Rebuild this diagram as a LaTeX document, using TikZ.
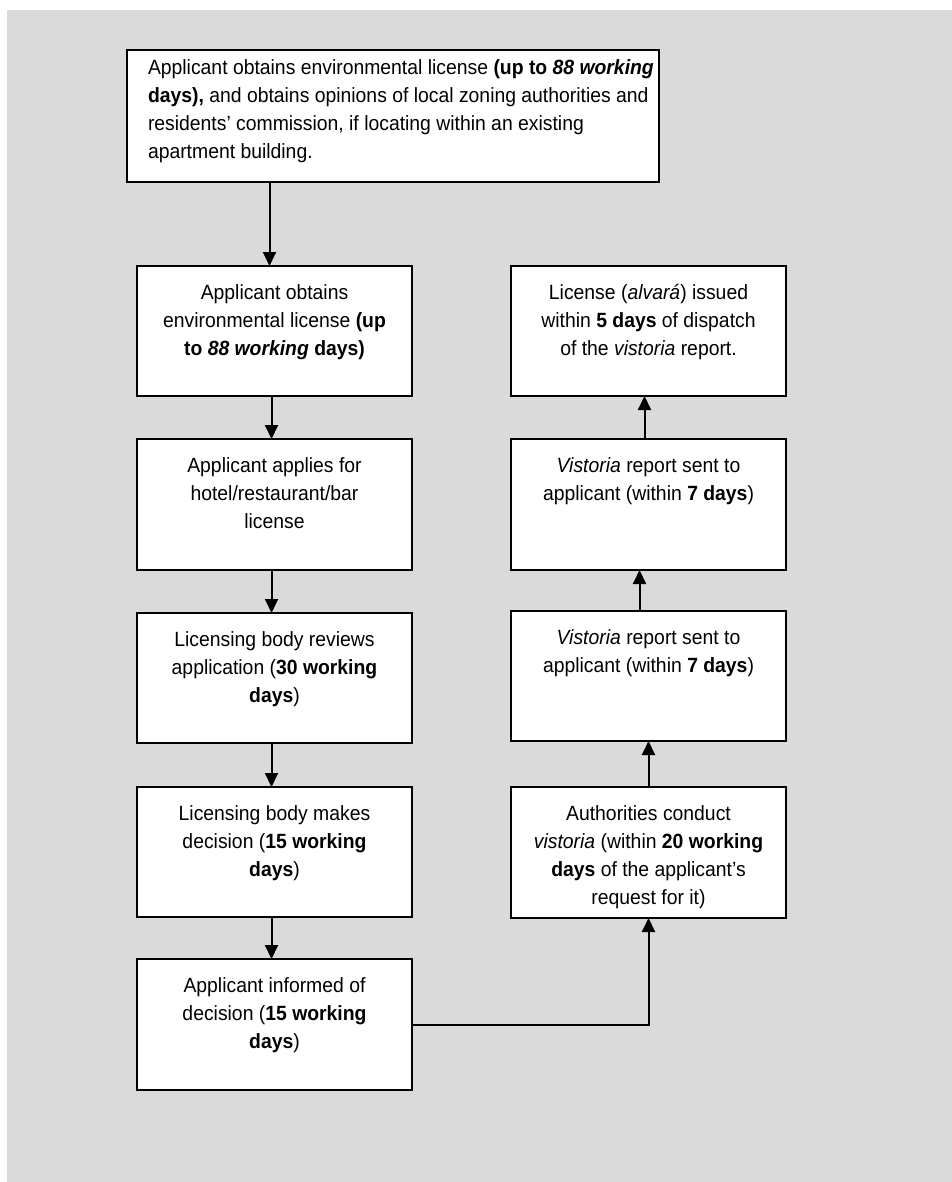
\documentclass[tikz,border=0pt]{standalone}
\usepackage{fontspec}
\setmainfont{Liberation Sans}[FakeStretch=0.94]
\usetikzlibrary{arrows.meta}
\definecolor{bggray}{RGB}{218,218,218}
\newcommand{\colbody}[2]{\parbox[c][#1][t]{275pt}{\centering\leftskip=-30pt plus 1fil\rightskip=-30pt plus 1fil\rule{0pt}{33pt}#2}}
\begin{document}
\begin{tikzpicture}[x=1pt,y=-1pt,
  every node/.style={font=\fontsize{20.6pt}{28pt}\selectfont},
  box/.style={draw, line width=2pt, fill=white, inner sep=0pt, outer sep=0pt},
  arr/.style={line width=2pt, -{Triangle[width=13pt,length=14pt]}}]
\useasboundingbox (0,0) rectangle (952,1182);
\fill[bggray] (7,10) rectangle (952,1182);

\node[box] (top) at (393,116) {\parbox[c][132pt][t]{532pt}{\raggedright\leftskip=21pt\rightskip=-50pt plus 1fil\rule{0pt}{25pt}Applicant obtains environmental license \textbf{(up to \textit{88 working}}\\
\textbf{days),} and obtains opinions of local zoning authorities and\\
residents’ commission, if locating within an existing\\
apartment building.}};

\node[box] (L1) at (274.5,331) {\colbody{130pt}{Applicant obtains\\ environmental license \textbf{(up}\\ \textbf{to \textit{88 working} days)}}};
\node[box] (L2) at (274.5,504.5) {\colbody{131pt}{Applicant applies for\\ hotel/restaurant/bar\\ license}};
\node[box] (L3) at (274.5,678) {\colbody{130pt}{Licensing body reviews\\ application (\textbf{30 working}\\ \textbf{days})}};
\node[box] (L4) at (274.5,852) {\colbody{130pt}{Licensing body makes\\ decision (\textbf{15 working}\\ \textbf{days})}};
\node[box] (L5) at (274.5,1024.5) {\colbody{131pt}{Applicant informed of\\ decision (\textbf{15 working}\\ \textbf{days})}};

\node[box] (R1) at (648.5,331) {\colbody{130pt}{License (\textit{alvará}) issued\\ within \textbf{5 days} of dispatch\\ of the \textit{vistoria} report.}};
\node[box] (R2) at (648.5,504.5) {\colbody{131pt}{\textit{Vistoria} report sent to\\ applicant (within \textbf{7 days})}};
\node[box] (R3) at (648.5,676) {\colbody{130pt}{\textit{Vistoria} report sent to\\ applicant (within \textbf{7 days})}};
\node[box] (R4) at (648.5,852.5) {\colbody{131pt}{Authorities conduct\\ \textit{vistoria} (within \textbf{20 working}\\ \textbf{days} of the applicant’s\\ request for it)}};

\draw[arr] ([xshift=-5pt]top.south -| L1.north) -- ([xshift=-5pt]L1.north);
\draw[arr] ([xshift=-3pt]L1.south) -- ([xshift=-3pt]L2.north);
\draw[arr] ([xshift=-3pt]L2.south) -- ([xshift=-3pt]L3.north);
\draw[arr] ([xshift=-3pt]L3.south) -- ([xshift=-3pt]L4.north);
\draw[arr] ([xshift=-3pt]L4.south) -- ([xshift=-3pt]L5.north);
\draw[arr] (L5.east) -| (R4.south);
\draw[arr] (R4.north) -- (R3.south);
\draw[arr] ([xshift=-9pt]R3.north) -- ([xshift=-9pt]R2.south);
\draw[arr] ([xshift=-4pt]R2.north) -- ([xshift=-4pt]R1.south);
\end{tikzpicture}
\end{document}
